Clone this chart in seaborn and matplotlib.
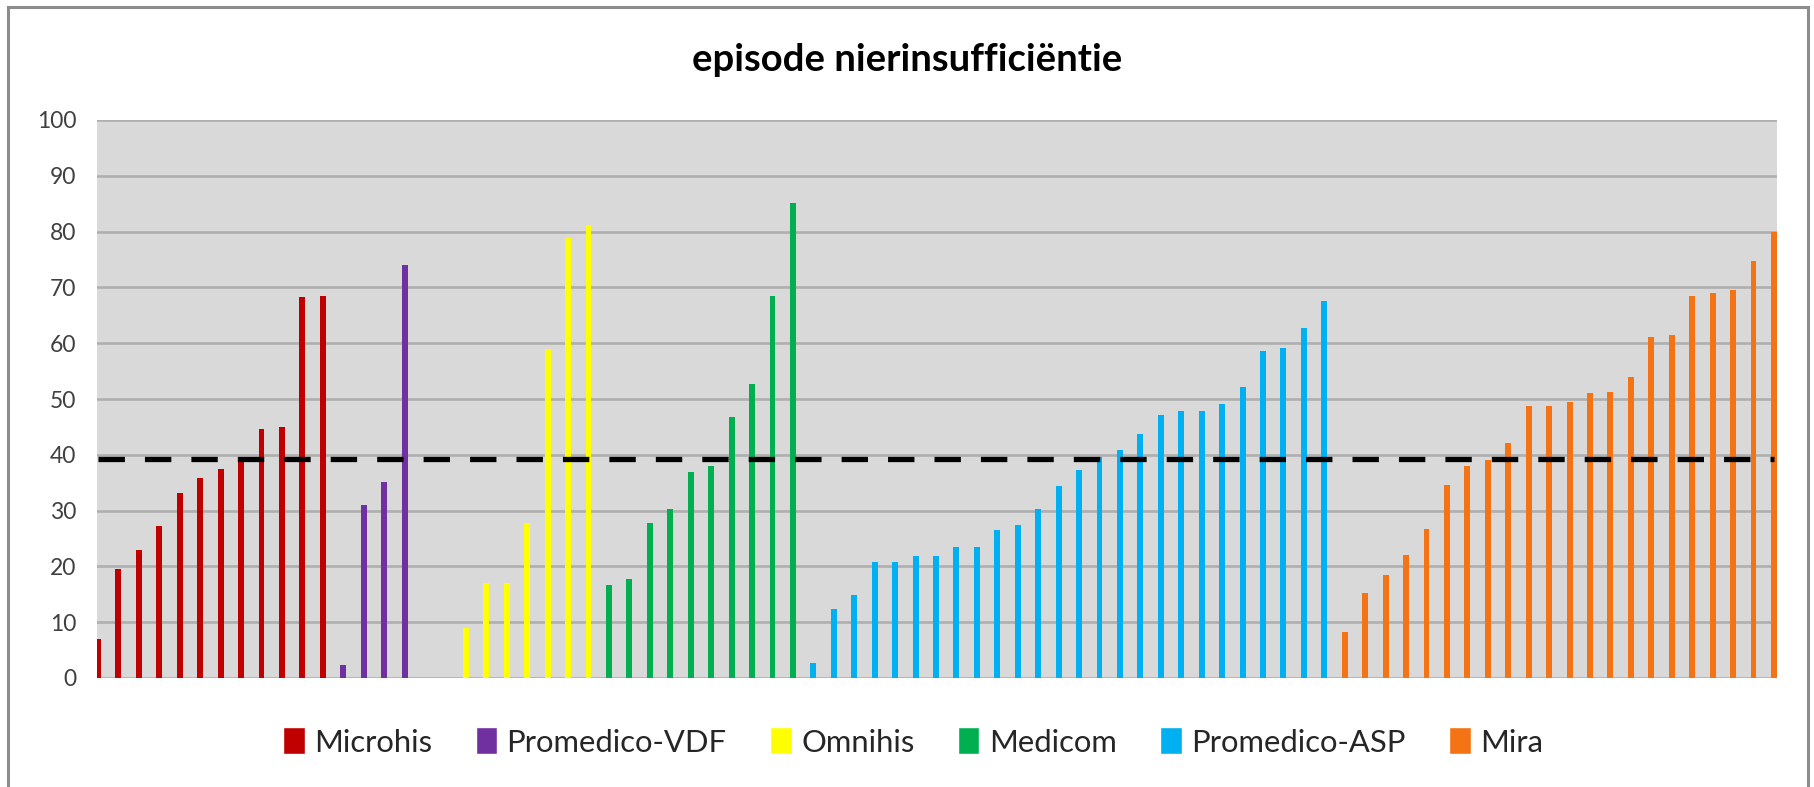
import matplotlib
matplotlib.use("Agg")
import matplotlib.pyplot as plt
from matplotlib.patches import Rectangle
import seaborn as sns
import pandas as pd

# values, one list per system (sorted per group)
microhis = [7.0, 19.6, 22.9, 27.2, 33.2, 35.8, 37.5, 38.9, 44.7, 45.0, 68.3, 68.5]
promedico_vdf = [2.4, 31.0, 35.1, 74.1]
omnihis = [8.9, 17.0, 17.1, 27.7, 58.9, 78.8, 81.2]
medicom = [16.6, 17.7, 27.7, 30.3, 37.0, 38.0, 46.7, 52.6, 68.4, 85.1]
promedico_asp = [2.7, 12.3, 14.9, 20.8, 20.8, 21.8, 21.8, 23.4, 23.4, 26.6, 27.5, 30.3,
                 34.4, 37.2, 39.6, 40.9, 43.8, 47.2, 47.9, 47.9, 49.1, 52.1, 58.6, 59.1,
                 62.8, 67.6]
mira = [8.2, 15.3, 18.4, 22.0, 26.7, 34.6, 38.0, 39.1, 42.2, 48.7, 48.8, 49.4, 51.1,
        51.3, 54.0, 61.1, 61.5, 68.4, 69.0, 69.5, 74.8, 79.9]

series = ["Microhis", "Promedico-VDF", "Omnihis", "Medicom", "Promedico-ASP", "Mira"]
values = [microhis, promedico_vdf, omnihis, medicom, promedico_asp, mira]
empty_after = {"Promedico-VDF": 2}   # two empty categories before Omnihis
threshold = 39.2

colors = ["#C00000", "#7030A0", "#FFFF00", "#00B050", "#00B0F0", "#F47314"]
palette = dict(zip(series, colors))

rows = []
pos = 0
for name, vals in zip(series, values):
    for v in vals:
        rows.append({"cat": pos, "system": name, "value": v})
        pos += 1
    pos += empty_after.get(name, 0)
df = pd.DataFrame(rows)
n_cat = pos

sns.set_theme(style="white")
plt.rcParams["font.family"] = ["Lato", "DejaVu Sans"]

fig = plt.figure(figsize=(18.14, 7.87), dpi=100)
ax = fig.add_axes([97 / 1814, 1 - 678 / 787, 1680 / 1814, 558 / 787])

sns.barplot(data=df, x="cat", y="value", hue="system", hue_order=series,
            order=list(range(n_cat)), palette=palette, width=0.85,
            errorbar=None, saturation=1, ax=ax)

# bars are wider than the dodge step (they overlap like in Excel)
bw = 0.29
centers = []
for p in ax.patches:
    c = p.get_x() + p.get_width() / 2
    p.set_width(bw)
    p.set_x(c - bw / 2)
    p.set_linewidth(0)
    if p.get_height() > 0:
        centers.append(c)

ax.hlines(threshold, 0, n_cat - 1, colors="black", linewidth=3.8,
          linestyles=(0, (5.0, 3.8)), zorder=5)

ax.set_facecolor("#D9D9D9")
ax.set_ylim(0, 100)
ax.set_xlim(min(centers) - 0.05, max(centers) + 0.15)
ax.set_yticks(range(0, 101, 10))
ax.yaxis.grid(True, color="#AFAFAF", linewidth=1.9)
ax.set_axisbelow(True)
ax.set_xticks([])
ax.set_xlabel("")
ax.set_ylabel("")
ax.tick_params(axis="y", length=0, pad=15, labelsize=16.5, labelcolor="#404040")
for s in ax.spines.values():
    s.set_visible(False)

sns.move_legend(ax, "center", bbox_to_anchor=(913 / 1814, 1 - 742 / 787),
                bbox_transform=fig.transFigure, ncol=6, frameon=False, title=None,
                fontsize=22.3, handlelength=0.7, handleheight=0.95,
                handletextpad=0.3, columnspacing=1.4)

fig.text(0.5, 1 - 60 / 787, "episode nierinsufficiëntie", ha="center", va="center",
         fontsize=27.5, fontweight="bold", color="black")

fig.add_artist(Rectangle((8 / 1814, -0.1), 1800 / 1814, 1.1 - 7 / 787,
                         transform=fig.transFigure, fill=False,
                         edgecolor="#8C8C8C", linewidth=2.2))

fig.savefig("out.png", dpi=100)
